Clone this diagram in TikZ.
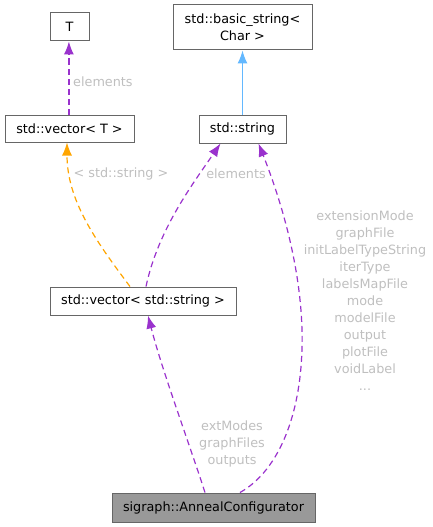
\documentclass[tikz,border=0pt]{standalone}
\usepackage{fontspec}
\setmainfont{DejaVu Sans}
\usetikzlibrary{arrows.meta}
\definecolor{edgepurple}{HTML}{9A32CD}
\definecolor{edgeorange}{HTML}{FFA500}
\definecolor{edgeblue}{HTML}{63B8FF}
\definecolor{lblgray}{HTML}{BFBFBF}
\definecolor{boxgray}{HTML}{666666}
\definecolor{fillgray}{HTML}{999999}
\begin{document}
\begin{tikzpicture}[x=1pt,y=-1pt,
  font=\fontsize{12.8}{17}\selectfont,
  box/.style={draw=boxgray,line width=1pt,fill=white,inner sep=0pt,align=center},
  rel/.style={edgepurple,line width=1.2pt,dash pattern=on 6pt off 4pt,-{Latex[length=13pt,width=10pt]}},
  tmpl/.style={edgeorange,line width=1.2pt,dash pattern=on 6pt off 4pt,-{Latex[length=13pt,width=10pt]}},
  inh/.style={edgeblue,line width=1.2pt,-{Latex[length=13pt,width=10pt]}},
  lbl/.style={text=lblgray,inner sep=0pt,align=center}]
\useasboundingbox (0,0) rectangle (432,527);
\node[box,minimum width=39pt,minimum height=28pt] (T) at (69.5,27) {T};
\node[box,minimum width=129pt,minimum height=27pt] (vecT) at (69.5,128.5) {std::vector< T >};
\node[box,minimum width=139pt,minimum height=45pt] (bstr) at (242.5,27.5) {std::basic\_string<\\Char >};
\node[box,minimum width=87pt,minimum height=28pt] (str) at (242.5,129) {std::string};
\node[box,minimum width=186pt,minimum height=28pt] (vecS) at (143,301) {std::vector< std::string >};
\node[box,fill=fillgray,minimum width=203pt,minimum height=29pt] (ann) at (213.5,507.5) {sigraph::AnnealConfigurator};

\draw[rel] ([xshift=-0.6pt]vecT.north) -- ([xshift=-0.6pt]T.south);
\node[lbl,anchor=west] (l1) at (73,82) {elements};

\draw[inh] (str.north) -- (bstr.south);

\draw[tmpl] ([xshift=-13pt]vecS.north) .. controls (95,240) and (67,200) .. ([xshift=-2.5pt]vecT.south);
\node[lbl] (l2) at (121,174) {< std::string >};

\draw[rel] ([xshift=3pt]vecS.north) .. controls (158,230) and (192,185) .. ([xshift=-22pt]str.north |- str.south);
\node[lbl] (l3) at (236,174) {elements};

\draw[rel] ([xshift=26.5pt]ann.north) .. controls (280,470) and (304,410) .. (302,330)
  .. controls (300,255) and (275,185) .. ([xshift=16pt]str.south);
\node[lbl] (l4) at (365,301) {extensionMode\\graphFile\\initLabelTypeString\\iterType\\labelsMapFile\\mode\\modelFile\\output\\plotFile\\voidLabel\\...};

\draw[rel] ([xshift=-8.5pt]ann.north) .. controls (188,440) and (162,370) .. ([xshift=5pt]vecS.south);
\node[lbl] (l5) at (232,444) {extModes\\graphFiles\\outputs};
\end{tikzpicture}
\end{document}
